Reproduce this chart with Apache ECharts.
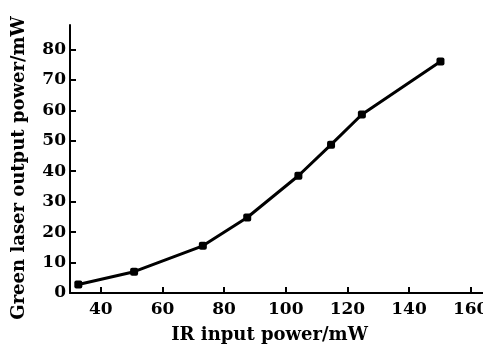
<!DOCTYPE html>
<html>
<head>
<meta charset="utf-8">
<script src="https://cdn.jsdelivr.net/npm/echarts@6/dist/echarts.min.js"></script>
<style>html,body{margin:0;padding:0;background:#fff}#c{width:483px;height:346px}</style>
</head>
<body>
<div id="c"></div>
<script>
const irPower = [32.7, 50.8, 73.1, 87.5, 104.1, 114.7, 124.7, 150.2];
const greenPower = [2.8, 7.0, 15.5, 24.8, 38.5, 48.7, 58.6, 76.0];
const xTicks = [40, 60, 80, 100, 120, 140, 160];
const yTicks = [0, 10, 20, 30, 40, 50, 60, 70, 80];
const xTitle = 'IR input power/mW';
const yTitle = 'Green laser output power/mW';

const font = 'DejaVu Serif';
const chart = echarts.init(document.getElementById('c'));
chart.setOption({
  animation: false,
  backgroundColor: '#fff',
  grid: { left: 70, right: 0, top: 25, bottom: 53, containLabel: false, outerBoundsMode: 'none' },
  xAxis: {
    type: 'value', min: 30, max: 164,
    name: xTitle, nameLocation: 'middle', nameGap: 33,
    nameTextStyle: { fontFamily: font, fontWeight: 'bold', fontSize: 18, color: '#000', padding: [0, 14, 0, 0] },
    axisLine: { show: true, lineStyle: { color: '#000', width: 2 } },
    axisTick: { show: true, inside: true, length: 6, lineStyle: { color: '#000', width: 2 }, customValues: xTicks },
    axisLabel: { fontFamily: font, fontWeight: 'bold', fontSize: 17, color: '#000', margin: 8, customValues: xTicks },
    splitLine: { show: false }
  },
  yAxis: {
    type: 'value', min: 0, max: 88,
    name: yTitle, nameLocation: 'middle', nameGap: 42, nameRotate: 90,
    nameTextStyle: { fontFamily: font, fontWeight: 'bold', fontSize: 18, color: '#000', padding: [0, 0, 0, -18] },
    axisLine: { show: true, lineStyle: { color: '#000', width: 2 } },
    axisTick: { show: true, inside: true, length: 6, lineStyle: { color: '#000', width: 2 }, customValues: yTicks },
    axisLabel: { fontFamily: font, fontWeight: 'bold', fontSize: 17, color: '#000', margin: 4, customValues: yTicks },
    splitLine: { show: false }
  },
  series: [{
    type: 'line',
    data: irPower.map((x, i) => [x, greenPower[i]]),
    symbol: 'roundRect', symbolSize: 8,
    lineStyle: { color: '#000', width: 3 },
    itemStyle: { color: '#000' }
  }]
});
</script>
</body>
</html>
